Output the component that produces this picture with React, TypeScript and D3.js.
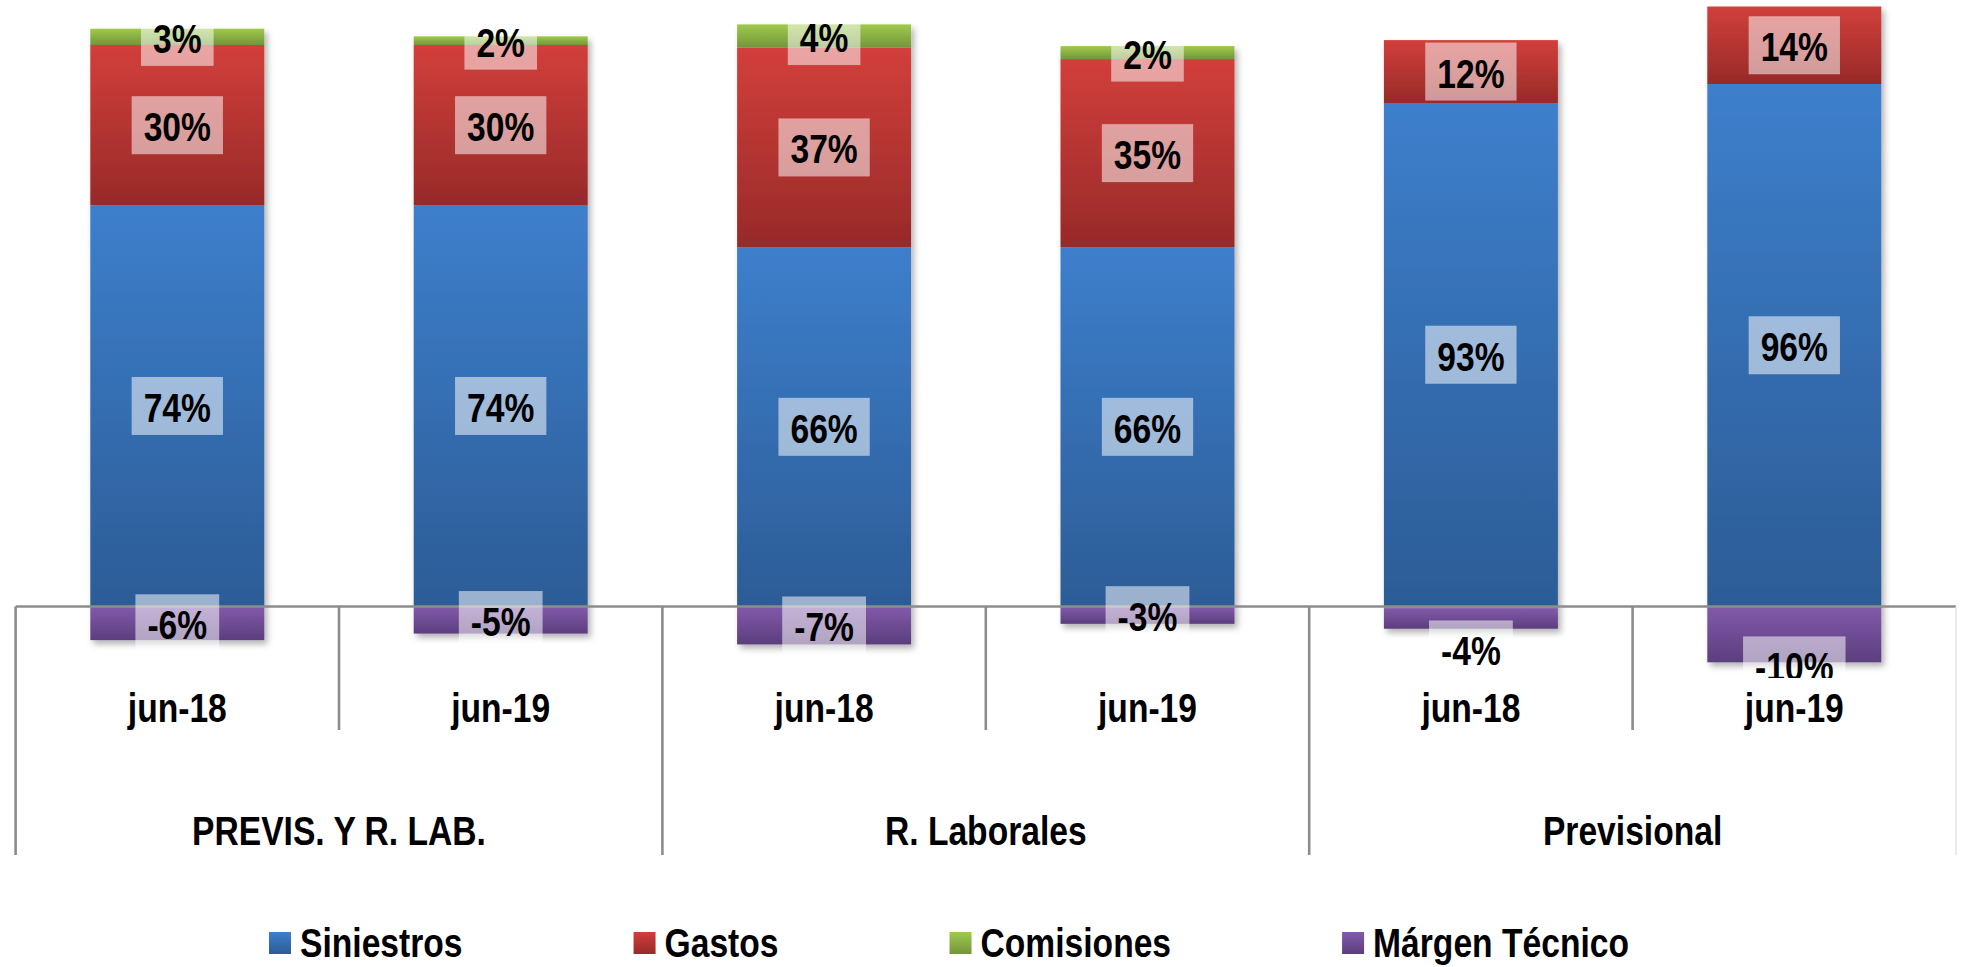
import React, { useMemo } from 'react';
import * as d3 from 'd3';

// ---- data ----
const categories = ['jun-18', 'jun-19', 'jun-18', 'jun-19', 'jun-18', 'jun-19'];
const groups = ['PREVIS. Y R. LAB.', 'R. Laborales', 'Previsional'];
const seriesNames = ['Siniestros', 'Gastos', 'Comisiones', 'Márgen Técnico'];
const siniestros = [74.0, 74.0, 66.3, 66.3, 92.9, 96.4];
const gastos = [29.6, 29.6, 36.8, 34.7, 11.6, 14.3];
const comisiones = [3.0, 1.6, 4.3, 2.4, -0.3, 0];
const margen = [-6.2, -5.0, -7.0, -3.2, -3.8, -10.3];

const seriesColors = [
  { top: '#3d7fcc', bottom: '#2c5c96' },
  { top: '#d23f3b', bottom: '#972a29' },
  { top: '#9fca4c', bottom: '#74953a' },
  { top: '#825aaa', bottom: '#5b3e7e' },
];

const W = 1967;
const H = 967;
const FONT = '"Liberation Sans", Arial, sans-serif';
const FS = 41;
const NARROW = 0.82;

let measureCtx: CanvasRenderingContext2D | null = null;
function textWidth(t: string): number {
  if (!measureCtx) {
    const c = document.createElement('canvas');
    measureCtx = c.getContext('2d');
  }
  if (!measureCtx) return t.length * FS * 0.45;
  measureCtx.font = `bold ${FS}px "Liberation Sans", Arial, sans-serif`;
  return measureCtx.measureText(t).width * NARROW;
}

function NText({ x, y, children, anchor = 'middle' }: { x: number; y: number; children: string; anchor?: string }) {
  return (
    <text
      transform={`translate(${x},${y}) scale(${NARROW},1)`}
      textAnchor={anchor as any}
      fontFamily={FONT}
      fontWeight="bold"
      fontSize={FS}
      fill="#000"
    >
      {children}
    </text>
  );
}

export default function App() {
  const plotLeft = 15.6;
  const plotRight = 1956;
  const zeroY = 606.5;
  const pxPerUnit = 5.42;
  const plotBottom = 678;

  const x = d3
    .scaleBand<number>()
    .domain(d3.range(categories.length))
    .range([plotLeft, plotRight])
    .paddingInner(0.462)
    .paddingOuter(0.231);
  const y = d3.scaleLinear().domain([0, 100]).range([zeroY, zeroY - 100 * pxPerUnit]);
  const step = x.step();

  const rows = useMemo(
    () =>
      categories.map((_, i) => ({
        s0: siniestros[i],
        s1: gastos[i],
        s2: comisiones[i],
        s3: margen[i],
      })),
    []
  );
  const stacked = useMemo(
    () =>
      d3
        .stack<any>()
        .keys(['s0', 's1', 's2', 's3'])
        .offset(d3.stackOffsetDiverging)(rows),
    [rows]
  );

  const seriesValues = [siniestros, gastos, comisiones, margen];
  const labelNudge: Record<string, number> = { '3-4': 31, '3-5': 31 };

  // legend layout
  const legendStart = 269;
  const legendGap = 171;
  let lx = legendStart;
  const legendItems = seriesNames.map((name, k) => {
    const item = { name, k, x: lx };
    lx += 31 + textWidth(name) + legendGap;
    return item;
  });

  return (
    <svg
      width={W}
      height={H}
      style={{ position: 'absolute', left: 0, top: 0, display: 'block', background: '#fff' }}
    >
      <defs>
        {seriesColors.map((c, k) => (
          <linearGradient key={k} id={`g${k}`} x1="0" y1="0" x2="0" y2="1">
            <stop offset="0" stopColor={c.top} />
            <stop offset="1" stopColor={c.bottom} />
          </linearGradient>
        ))}
        <filter id="sh" x="-20%" y="-20%" width="140%" height="140%">
          <feDropShadow dx="3" dy="4" stdDeviation="3" floodColor="#000" floodOpacity="0.3" />
        </filter>
        <clipPath id="plotClip">
          <rect x={0} y={-20} width={W} height={plotBottom + 20} />
        </clipPath>
      </defs>
      <rect x={0} y={0} width={W} height={H} fill="#fff" />

      {/* bars */}
      {categories.map((_, i) => (
        <g key={i} filter="url(#sh)">
          {stacked.map((s, k) => {
            const [a, b] = s[i];
            if (Math.abs(b - a) < 1e-9) return null;
            const top = y(Math.max(a, b));
            const bot = y(Math.min(a, b));
            return (
              <rect
                key={k}
                x={x(i)}
                y={top}
                width={x.bandwidth()}
                height={bot - top}
                fill={`url(#g${k})`}
              />
            );
          })}
        </g>
      ))}

      {/* axis line */}
      <line x1={plotLeft} x2={plotRight} y1={zeroY} y2={zeroY} stroke="#8c8c8c" strokeWidth={2.6} />
      {d3.range(categories.length + 1).map((k) => {
        const xx = plotLeft + k * step;
        const long = k % 2 === 0;
        const last = k === categories.length;
        return (
          <line
            key={k}
            x1={xx}
            x2={xx}
            y1={zeroY}
            y2={long ? 855 : 730}
            stroke={last ? '#e4e4e4' : '#8c8c8c'}
            strokeWidth={last ? 1.5 : 2.6}
          />
        );
      })}

      {/* data labels */}
      <g clipPath="url(#plotClip)">
        {stacked.map((s, k) =>
          categories.map((_, i) => {
            const v = seriesValues[k][i];
            if (Math.abs(v) < 0.5) return null;
            const [a, b] = s[i];
            const cx = (x(i) as number) + x.bandwidth() / 2;
            const cy = (y(a) + y(b)) / 2 + (labelNudge[`${k}-${i}`] || 0);
            const label = `${Math.round(v)}%`;
            const w = textWidth(label) + 24;
            return (
              <g key={`${k}-${i}`}>
                <rect x={cx - w / 2} y={cy - 29} width={w} height={58} fill="#fff" fillOpacity={0.53} />
                <NText x={cx} y={cy + 16}>{label}</NText>
              </g>
            );
          })
        )}
      </g>

      {/* category labels */}
      {categories.map((c, i) => (
        <NText key={i} x={plotLeft + (i + 0.5) * step} y={722}>
          {c}
        </NText>
      ))}
      {groups.map((g, j) => (
        <NText key={j} x={plotLeft + (j * 2 + 1) * step} y={845}>
          {g}
        </NText>
      ))}

      {/* legend */}
      {legendItems.map((it) => (
        <g key={it.k}>
          <rect x={it.x} y={932} width={22} height={22} fill={`url(#g${it.k})`} />
          <NText x={it.x + 31} y={957} anchor="start">
            {it.name}
          </NText>
        </g>
      ))}
    </svg>
  );
}
